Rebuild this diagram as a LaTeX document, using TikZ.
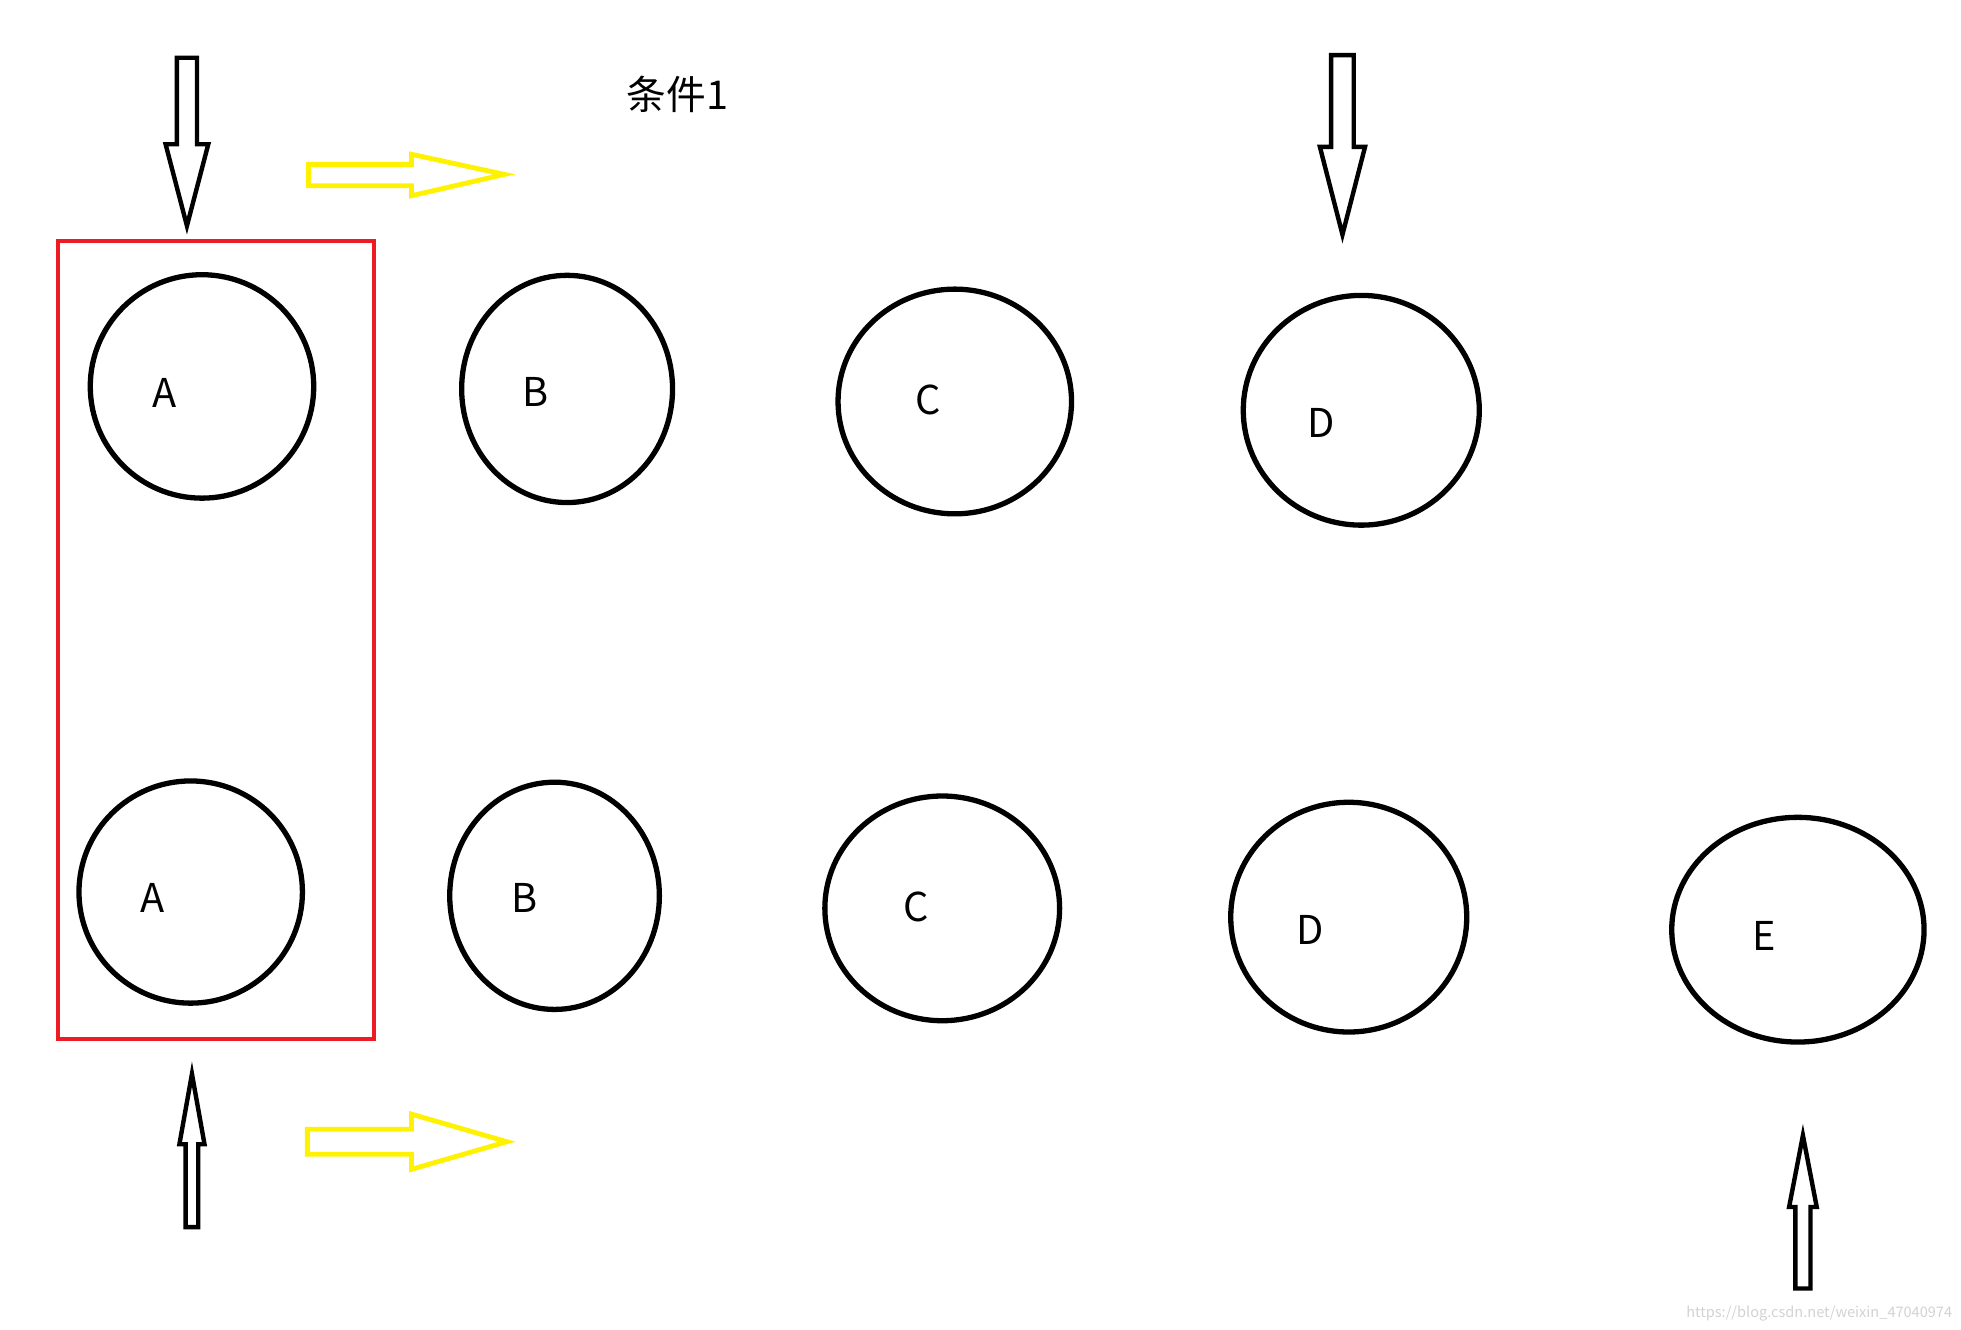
\documentclass[tikz,border=0pt]{standalone}
\usepackage{fontspec}
\setmainfont{Noto Sans CJK SC}
\usetikzlibrary{shapes.geometric}

\definecolor{paintred}{HTML}{ED1C24}
\definecolor{paintyellow}{HTML}{FFF200}

\tikzset{
  ring/.style={draw, ellipse, line width=1.2pt, inner sep=0pt, outer sep=0pt},
  lbl/.style={inner sep=0pt, font=\fontsize{9}{11}\selectfont},
  pushdown/.style={draw, line width=1pt, fill=white},
  shiftright/.style={draw=paintyellow, line width=1.1pt},
}

\begin{document}
\begin{tikzpicture}[x=0.01cm, y=-0.01cm]

                \useasboundingbox (0,0) rectangle (1563,1059.3);

                % red frame round the two A
                \draw [paintred, line width=0.95pt] (46,192) rectangle (298,828);

                % top row
                \node [ring, minimum width=1.78cm, minimum height=1.78cm] (a1) at (161,308) {};
                \node [ring, minimum width=1.68cm, minimum height=1.81cm] (b1) at (452,310) {};
                \node [ring, minimum width=1.86cm, minimum height=1.79cm] (c1) at (761,320) {};
                \node [ring, minimum width=1.88cm, minimum height=1.83cm] (d1) at (1085,327) {};

                \node [lbl] (la1) at ([shift={(-30,5)}]a1.center) {A};
                \node [lbl] (lb1) at ([shift={(-25,2)}]b1.center) {B};
                \node [lbl] (lc1) at ([shift={(-21,-1)}]c1.center) {C};
                \node [lbl] (ld1) at ([shift={(-32,10)}]d1.center) {D};

                % bottom row
                \node [ring, minimum width=1.78cm, minimum height=1.77cm] (a2) at (152,711) {};
                \node [ring, minimum width=1.67cm, minimum height=1.81cm] (b2) at (442,714) {};
                \node [ring, minimum width=1.87cm, minimum height=1.79cm] (c2) at (751,724) {};
                \node [ring, minimum width=1.88cm, minimum height=1.83cm] (d2) at (1075,731) {};
                \node [ring, minimum width=2.01cm, minimum height=1.79cm] (e2) at (1433,741) {};

                \node [lbl] (la2) at ([shift={(-30,5)}]a2.center) {A};
                \node [lbl] (lb2) at ([shift={(-24,2)}]b2.center) {B};
                \node [lbl] (lc2) at ([shift={(-21,-1)}]c2.center) {C};
                \node [lbl] (ld2) at ([shift={(-31,10)}]d2.center) {D};
                \node [lbl] (le2) at ([shift={(-27,5)}]e2.center) {E};

                \node [inner sep=0pt, font=\fontsize{9}{11}\selectfont] (cond) at (540,75) {条件1};

                % black block arrows
                \draw [pushdown] (141,46) -- (157,46) -- (157,115) -- (166,115) -- (149,180) -- (132,115) -- (141,115) -- cycle;
                \draw [pushdown] (1061,44) -- (1079,44) -- (1079,117) -- (1088,117) -- (1070,187) -- (1052,117) -- (1061,117) -- cycle;
                \draw [pushdown] (148,978) -- (158,978) -- (158,912) -- (163,912) -- (153,856) -- (143,912) -- (148,912) -- cycle;
                \draw [pushdown] (1431,1027) -- (1443,1027) -- (1443,962) -- (1448,962) -- (1437,905) -- (1426,962) -- (1431,962) -- cycle;

                % yellow block arrows
                \draw [shiftright] (246,131) -- (328,131) -- (328,123) -- (402,139) -- (328,156) -- (328,148) -- (246,148) -- cycle;
                \draw [shiftright] (245,900) -- (328,900) -- (328,888) -- (404,910) -- (328,932) -- (328,920) -- (245,920) -- cycle;

                \node [inner sep=0pt, text=gray!35, font=\fontsize{3.3}{4}\selectfont] (mark) at (1450,1047) {https://blog.csdn.net/weixin\_47040974};

            \end{tikzpicture}
\end{document}
